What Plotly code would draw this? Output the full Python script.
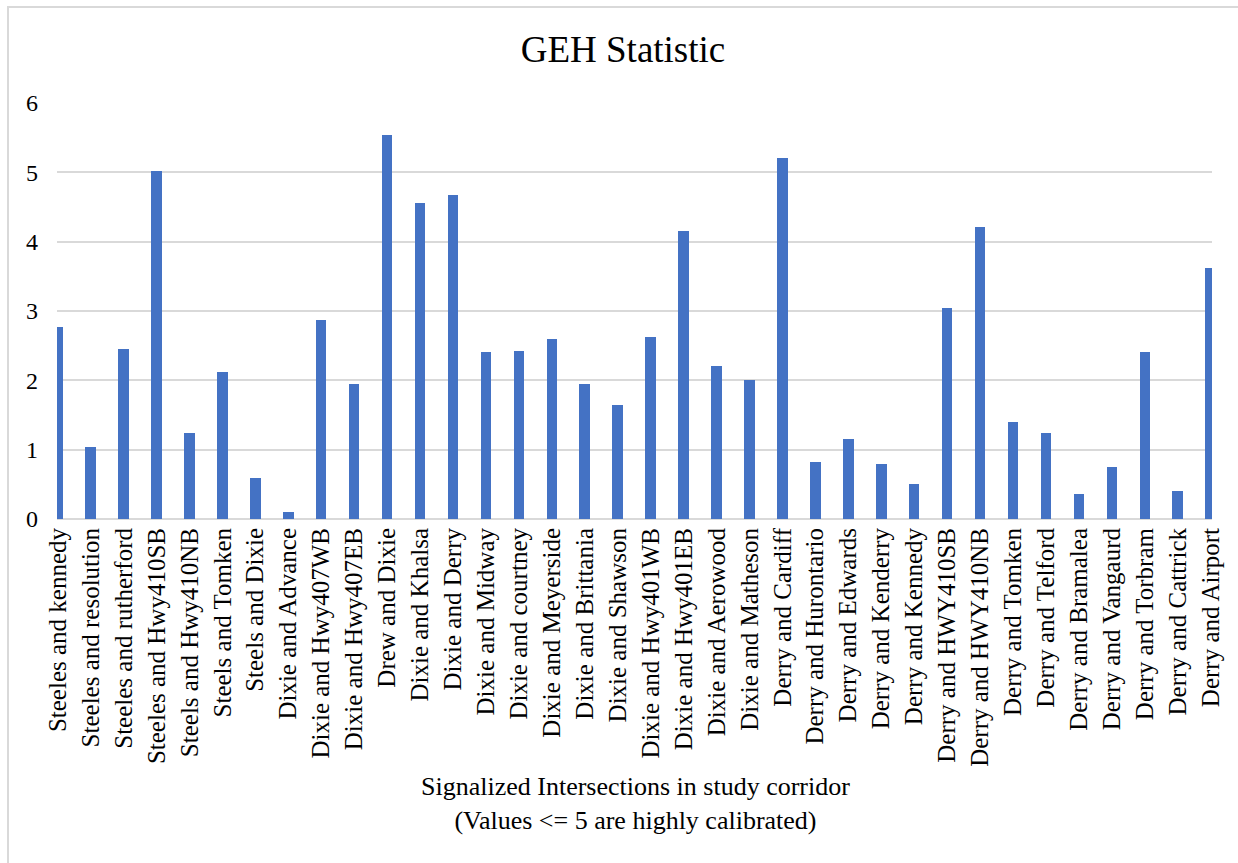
import plotly.graph_objects as go

# Signalized intersections along the corridor and their GEH statistic
intersections = [
    "Steeles and kennedy", "Steeles and resolution", "Steeles and rutherford",
    "Steeles and Hwy410SB", "Steels and Hwy410NB", "Steels and Tomken",
    "Steels and Dixie", "Dixie and Advance", "Dixie and Hwy407WB",
    "Dixie and Hwy407EB", "Drew and Dixie", "Dixie and Khalsa",
    "Dixie and Derry", "Dixie and Midway", "Dixie and courtney",
    "Dixie and Meyerside", "Dixie and Brittania", "Dixie and Shawson",
    "Dixie and Hwy401WB", "Dixie and Hwy401EB", "Dixie and Aerowood",
    "Dixie and Matheson", "Derry and Cardiff", "Derry and Hurontario",
    "Derry and Edwards", "Derry and Kenderry", "Derry and Kennedy",
    "Derry and HWY410SB", "Derry and HWY410NB", "Derry and Tomken",
    "Derry and Telford", "Derry and Bramalea", "Derry and Vangaurd",
    "Derry and Torbram", "Derry and Cattrick", "Derry and Airport",
]
geh_values = [
    2.77, 1.04, 2.45, 5.02, 1.24, 2.12,
    0.59, 0.10, 2.87, 1.94, 5.54, 4.56,
    4.68, 2.41, 2.43, 2.60, 1.95, 1.65,
    2.63, 4.15, 2.20, 2.00, 5.21, 0.82,
    1.15, 0.79, 0.51, 3.05, 4.21, 1.40,
    1.24, 0.36, 0.75, 2.41, 0.41, 3.62,
]
y_ticks = [0, 1, 2, 3, 4, 5, 6]

W, H = 1238, 863
PLOT_L, PLOT_R, PLOT_T, PLOT_B = 57, 1212, 103, 519
FONT = "Liberation Serif, Times New Roman, serif"
GRID = "#d9d9d9"


def px_x(px):
    return (px - PLOT_L) / (PLOT_R - PLOT_L)


def px_y(py):
    return (PLOT_B - py) / (PLOT_B - PLOT_T)


fig = go.Figure(
    go.Bar(
        x=list(range(len(intersections))),
        y=geh_values,
        width=0.32,
        marker=dict(color="#4472C4", line=dict(width=0)),
    )
)

fig.update_layout(
    width=W,
    height=H,
    margin=dict(l=PLOT_L, r=W - PLOT_R, t=PLOT_T, b=H - PLOT_B, pad=0),
    paper_bgcolor="white",
    plot_bgcolor="white",
    showlegend=False,
    font=dict(family=FONT, color="#000000"),
    title=dict(
        text="GEH Statistic",
        font=dict(family=FONT, size=37, color="#000000"),
        x=623 / W,
        xref="container",
        xanchor="center",
        y=1 - 49 / H,
        yref="container",
        yanchor="middle",
    ),
    bargap=0,
)

fig.update_xaxes(
    range=[-0.02, 35.04],
    tickmode="array",
    tickvals=list(range(len(intersections))),
    ticktext=intersections,
    tickangle=-90,
    tickfont=dict(family=FONT, size=25, color="#000000"),
    ticks="",
    showgrid=False,
    showline=False,
    zeroline=False,
    ticklabelstandoff=3,
)

fig.update_yaxes(
    range=[0, 6],
    tickmode="array",
    tickvals=y_ticks,
    ticktext=[str(v) for v in y_ticks],
    tickfont=dict(family=FONT, size=24, color="#000000"),
    ticks="",
    showgrid=True,
    gridcolor=GRID,
    gridwidth=2,
    zeroline=True,
    zerolinecolor=GRID,
    zerolinewidth=2,
    showline=False,
    ticklabelstandoff=18,
)

# x-axis caption, two centred lines below the category labels
fig.add_annotation(
    text="Signalized Intersections in study corridor<br>(Values <= 5 are highly calibrated)",
    xref="paper", yref="paper",
    x=px_x(635), y=px_y(803),
    xanchor="center", yanchor="middle",
    showarrow=False,
    font=dict(family=FONT, size=26, color="#000000"),
)

# chart frame
fig.add_shape(
    type="rect",
    xref="paper", yref="paper",
    x0=px_x(8), x1=px_x(W + 20),
    y0=px_y(H + 20), y1=px_y(7),
    line=dict(color=GRID, width=2),
    fillcolor="rgba(0,0,0,0)",
    layer="below",
)

fig.write_html("out.html")
